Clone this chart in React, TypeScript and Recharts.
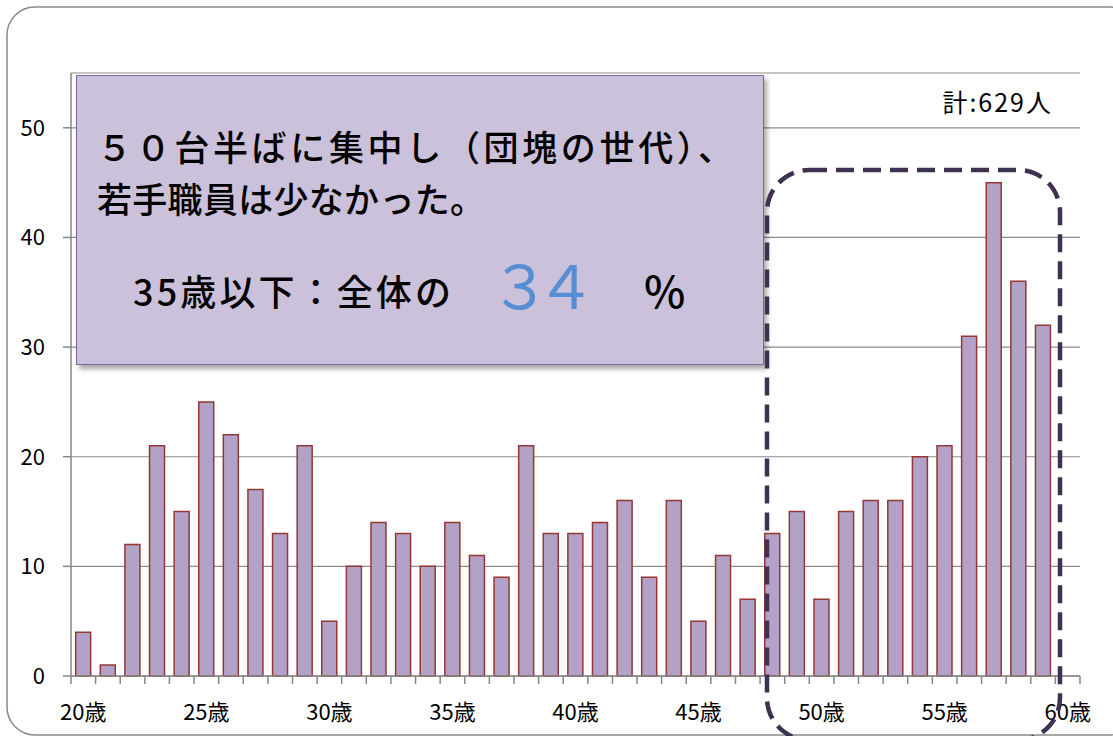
import React from 'react';
import { BarChart, Bar, XAxis, YAxis, CartesianGrid } from 'recharts';

const ages: number[] = [20, 21, 22, 23, 24, 25, 26, 27, 28, 29, 30, 31, 32, 33, 34, 35, 36, 37, 38, 39, 40, 41, 42, 43, 44, 45, 46, 47, 48, 49, 50, 51, 52, 53, 54, 55, 56, 57, 58, 59, 60];
const counts: (number | null)[] = [4, 1, 12, 21, 15, 25, 22, 17, 13, 21, 5, 10, 14, 13, 10, 14, 11, 9, 21, 13, 13, 14, 16, 9, 16, 5, 11, 7, 13, 15, 7, 15, 16, 16, 20, 21, 31, 45, 36, 32, null];
const yTicks: number[] = [0, 10, 20, 30, 40, 50];
const labelEvery = 5;
const totalLabel = '計:629人';
const noteLine1 = '５０台半ばに集中し（団塊の世代）、';
const noteLine2 = '若手職員は少なかった。';
const noteLine3a = '35歳以下：全体の';
const noteValue = '３４';
const noteUnit = '%';

const data = ages.map((a, i) => ({ age: a, count: counts[i] }));

const FONT = "'Noto Sans CJK JP', 'Noto Sans', sans-serif";
const AXIS = '#868686';

const AgeTick = (props: any) => {
  const { x, y, payload, index } = props;
  const off = payload && payload.offset ? payload.offset : 0;
  const age = payload.value as number;
  const isLast = index === ages.length - 1;
  return (
    <g>
      <line x1={x - off} x2={x - off} y1={y - 8} y2={y} stroke={AXIS} strokeWidth={1.5} />
      {isLast && <line x1={x + off} x2={x + off} y1={y - 8} y2={y} stroke={AXIS} strokeWidth={1.5} />}
      {age % labelEvery === 0 && (
        <text x={x} y={y} dy={36} textAnchor="middle" fontSize={22} fontFamily={FONT} fill="#000">
          {age}歳
        </text>
      )}
    </g>
  );
};

export default function App() {
  return (
    <div style={{ position: 'absolute', left: 0, top: 0, width: 1113, height: 736, background: '#fff', overflow: 'hidden' }}>
      <svg width={1113} height={736} style={{ position: 'absolute', left: 0, top: 0 }}>
        <rect x={7} y={7} width={1130} height={728} rx={28} ry={28} fill="#fff" stroke="#898989" strokeWidth={1.5} />
      </svg>
      <div style={{ position: 'absolute', left: 0, top: 0 }}>
        <BarChart width={1113} height={736} data={data} margin={{ top: 73, right: 33, bottom: 0, left: 0 }} barCategoryGap="19%">
          <CartesianGrid vertical={false} stroke="#8c8c8c" strokeWidth={1.2} />
          <XAxis
            dataKey="age"
            type="category"
            height={60}
            interval={0}
            tickSize={8}
            tickMargin={0}
            tickLine={false}
            axisLine={{ stroke: AXIS, strokeWidth: 1.5 }}
            tick={<AgeTick />}
          />
          <YAxis
            type="number"
            domain={[0, 55]}
            ticks={yTicks}
            width={71}
            tickSize={8}
            tickMargin={18}
            axisLine={{ stroke: AXIS, strokeWidth: 1.5 }}
            tickLine={{ stroke: AXIS, strokeWidth: 1.5 }}
            tick={{ fill: '#000', fontSize: 22, fontFamily: FONT }}
          />
          <Bar dataKey="count" fill="#B3A2C7" stroke="#953735" strokeWidth={1.5} isAnimationActive={false} />
        </BarChart>
      </div>
      <div
        style={{
          position: 'absolute',
          left: 76,
          top: 75,
          width: 688,
          height: 290,
          boxSizing: 'border-box',
          background: '#CCC1DA',
          border: '1.5px solid #8064A2',
          boxShadow: '3px 4px 5px rgba(0,0,0,0.35)',
        }}
      />
      <svg width={1113} height={736} style={{ position: 'absolute', left: 0, top: 0 }}>
        <text x={1053} y={112} textAnchor="end" fontSize={25} fontFamily={FONT} fill="#000" letterSpacing={2}>{totalLabel}</text>
        <text x={97} y={161} fontSize={35} fontWeight={500} fontFamily={FONT} fill="#000" textLength={636} lengthAdjust="spacing">{noteLine1}</text>
        <text x={97} y={213} fontSize={35} fontWeight={500} fontFamily={FONT} fill="#000" textLength={388} lengthAdjust="spacing">{noteLine2}</text>
        <text x={133} y={306} fontSize={36} fontWeight={500} fontFamily={FONT} fill="#000" textLength={318} lengthAdjust="spacing">{noteLine3a}</text>
        <text x={490} y={309} fontSize={60} fontWeight={400} fontFamily={FONT} fill="#558ED5" textLength={106} lengthAdjust="spacing">{noteValue}</text>
        <text x={644} y={308} fontSize={44} fontWeight={500} fontFamily={FONT} fill="#000">{noteUnit}</text>
        <rect x={767} y={170} width={293} height={570} rx={42} ry={42} fill="none" stroke="#3F3151" strokeWidth={4.5} strokeDasharray="18 9" />
      </svg>
    </div>
  );
}
